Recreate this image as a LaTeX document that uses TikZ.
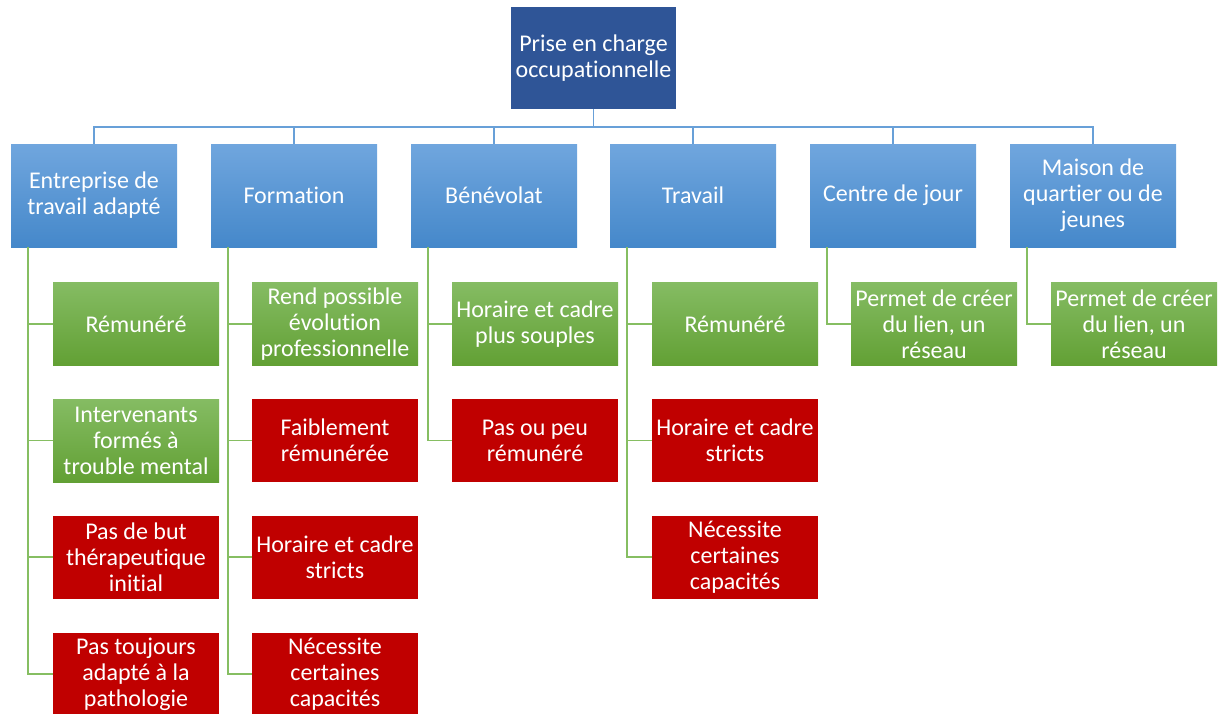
\documentclass[tikz,border=0pt]{standalone}
\usepackage{fontspec}
\setmainfont{Carlito}[Ligatures=NoCommon]
\usetikzlibrary{positioning}

\definecolor{rootblue}{RGB}{47,85,151}
\definecolor{boxtop}{RGB}{112,166,222}
\definecolor{boxbot}{RGB}{69,136,202}
\definecolor{gtop}{RGB}{133,188,99}
\definecolor{gbot}{RGB}{98,160,52}
\definecolor{nored}{RGB}{192,0,0}
\definecolor{busblue}{RGB}{104,160,216}
\definecolor{twiggreen}{RGB}{134,190,98}

\tikzset{
  txt/.style={text=white,align=center,inner sep=2pt,font=\fontsize{24}{26}\selectfont},
  root/.style={txt,fill=rootblue,minimum width=165pt,minimum height=102pt},
  cat/.style={txt,top color=boxtop,bottom color=boxbot,minimum width=166pt,minimum height=103pt},
  pro/.style={txt,top color=gtop,bottom color=gbot,minimum width=166pt,minimum height=83pt},
  con/.style={txt,fill=nored,minimum width=166pt,minimum height=83pt},
  bus/.style={draw=busblue,line width=1.5pt},
  twig/.style={draw=twiggreen,line width=1.5pt}
}

\begin{document}
\begin{tikzpicture}[x=1pt,y=-1pt]
\useasboundingbox (0,0) rectangle (1225,713);

\node[root] (root) at (593.5,58) {Prise en charge\\occupationnelle};

% categories
\node[cat] (etp) at (94,195.5) {Entreprise de\\travail adapt\'e};
\node[cat] (form) at (294,195.5) {Formation};
\node[cat] (bene) at (494,195.5) {B\'en\'evolat};
\node[cat] (trav) at (693,195.5) {Travail};
\node[cat] (cdj) at (893,195.5) {Centre de jour};
\node[cat] (mq) at (1093,195.5) {Maison de\\quartier ou de\\jeunes};

\foreach \c in {etp,form,bene,trav,cdj,mq}
  \draw[bus] (root.south) -- ++(0,18) -| (\c.north);

% Entreprise de travail adapte
\node[pro] (etp1) at (136,324) {R\'emun\'er\'e};
\node[pro] (etp2) at (136,440.5) {Intervenants\\form\'es \`a\\trouble mental};
\node[con] (etp3) at (136,557) {Pas de but\\th\'erapeutique\\initial};
\node[con] (etp4) at (136,674) {Pas toujours\\adapt\'e \`a la\\pathologie};

% Formation
\node[pro] (form1) at (335,324) {Rend possible\\\'evolution\\professionnelle};
\node[con] (form2) at (335,440.5) {Faiblement\\r\'emun\'er\'ee};
\node[con] (form3) at (335,557) {Horaire et cadre\\stricts};
\node[con] (form4) at (335,674) {N\'ecessite\\certaines\\capacit\'es};

% Benevolat
\node[pro] (bene1) at (535,324) {Horaire et cadre\\plus souples};
\node[con] (bene2) at (535,440.5) {Pas ou peu\\r\'emun\'er\'e};

% Travail
\node[pro] (trav1) at (735,324) {R\'emun\'er\'e};
\node[con] (trav2) at (735,440.5) {Horaire et cadre\\stricts};
\node[con] (trav3) at (735,557) {N\'ecessite\\certaines\\capacit\'es};

% Centre de jour, Maison de quartier
\node[pro] (cdj1) at (934,324) {Permet de cr\'eer\\du lien, un\\r\'eseau};
\node[pro] (mq1) at (1134,324) {Permet de cr\'eer\\du lien, un\\r\'eseau};

\foreach \c in {etp,form,bene,trav,cdj,mq}
  \coordinate (\c t) at ([xshift=17pt]\c.south west);

\foreach \c in {etp1,etp2,etp3,etp4}
  \draw[twig] (etpt) |- (\c.west);
\foreach \c in {form1,form2,form3,form4}
  \draw[twig] (formt) |- (\c.west);
\foreach \c in {bene1,bene2}
  \draw[twig] (benet) |- (\c.west);
\foreach \c in {trav1,trav2,trav3}
  \draw[twig] (travt) |- (\c.west);
\draw[twig] (cdjt) |- (cdj1.west);
\draw[twig] (mqt) |- (mq1.west);
\end{tikzpicture}
\end{document}
